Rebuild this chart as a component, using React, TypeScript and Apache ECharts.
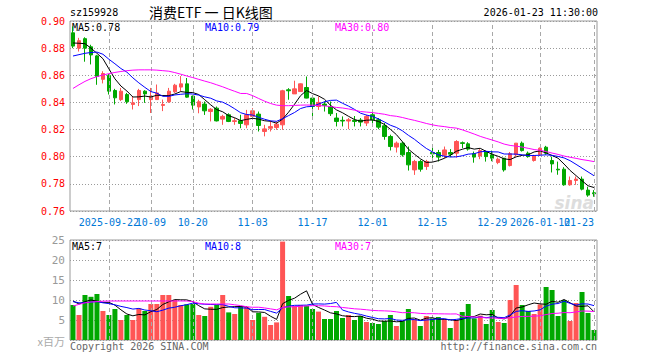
import React, { useEffect, useRef } from 'react';
import * as echarts from 'echarts';

const dates = [
  '2025-09-12','2025-09-15','2025-09-16','2025-09-17','2025-09-18','2025-09-19','2025-09-22','2025-09-23','2025-09-24','2025-09-25',
  '2025-09-26','2025-09-29','2025-09-30','2025-10-09','2025-10-10','2025-10-13','2025-10-14','2025-10-15','2025-10-16','2025-10-17',
  '2025-10-20','2025-10-21','2025-10-22','2025-10-23','2025-10-24','2025-10-27','2025-10-28','2025-10-29','2025-10-30','2025-10-31',
  '2025-11-03','2025-11-04','2025-11-05','2025-11-06','2025-11-07','2025-11-10','2025-11-11','2025-11-12','2025-11-13','2025-11-14',
  '2025-11-17','2025-11-18','2025-11-19','2025-11-20','2025-11-21','2025-11-24','2025-11-25','2025-11-26','2025-11-27','2025-11-28',
  '2025-12-01','2025-12-02','2025-12-03','2025-12-04','2025-12-05','2025-12-08','2025-12-09','2025-12-10','2025-12-11','2025-12-12',
  '2025-12-15','2025-12-16','2025-12-17','2025-12-18','2025-12-19','2025-12-22','2025-12-23','2025-12-24','2025-12-25','2025-12-26',
  '2025-12-29','2025-12-30','2025-12-31','2026-01-05','2026-01-06','2026-01-07','2026-01-08','2026-01-09','2026-01-12','2026-01-13',
  '2026-01-14','2026-01-15','2026-01-16','2026-01-19','2026-01-20','2026-01-21','2026-01-22','2026-01-23',
];

const opens = [
  0.8913,0.8800,0.8870,0.8810,0.8743,0.8570,0.8598,0.8488,0.8421,0.8458,
  0.8385,0.8421,0.8483,0.8421,0.8421,0.8378,0.8405,0.8478,0.8513,0.8537,
  0.8447,0.8367,0.8388,0.8333,0.8358,0.8277,0.8309,0.8260,0.8265,0.8235,
  0.8297,0.8314,0.8186,0.8210,0.8215,0.8235,0.8493,0.8463,0.8480,0.8510,
  0.8432,0.8370,0.8388,0.8370,0.8285,0.8268,0.8263,0.8268,0.8270,0.8248,
  0.8309,0.8272,0.8228,0.8149,0.8071,0.8100,0.8031,0.7903,0.7965,0.7928,
  0.8031,0.8031,0.8011,0.8031,0.8026,0.8103,0.8095,0.8022,0.8006,0.8038,
  0.8014,0.7957,0.7989,0.7935,0.8014,0.8100,0.8026,0.7972,0.8014,0.8070,
  0.7972,0.7908,0.7908,0.7793,0.7825,0.7835,0.7754,0.7734,
];
const closes = [
  0.8815,0.8855,0.8800,0.8750,0.8591,0.8613,0.8483,0.8434,0.8483,0.8405,
  0.8397,0.8488,0.8463,0.8447,0.8470,0.8385,0.8483,0.8527,0.8537,0.8439,
  0.8380,0.8405,0.8338,0.8350,0.8264,0.8297,0.8260,0.8265,0.8245,0.8309,
  0.8338,0.8230,0.8205,0.8222,0.8240,0.8486,0.8486,0.8500,0.8537,0.8432,
  0.8370,0.8400,0.8378,0.8317,0.8260,0.8263,0.8272,0.8260,0.8255,0.8297,
  0.8272,0.8218,0.8149,0.8075,0.8100,0.8014,0.7940,0.7965,0.7908,0.7965,
  0.8021,0.7997,0.8050,0.8019,0.8112,0.8098,0.8056,0.7997,0.8045,0.8001,
  0.7989,0.7982,0.7903,0.8022,0.8100,0.8045,0.8001,0.8006,0.8063,0.8026,
  0.7947,0.7903,0.7793,0.7825,0.7835,0.7761,0.7717,0.7727,
];
const lows = [
  0.8800,0.8775,0.8700,0.8680,0.8530,0.8540,0.8458,0.8385,0.8410,0.8390,
  0.8348,0.8373,0.8397,0.8322,0.8420,0.8336,0.8397,0.8470,0.8483,0.8435,
  0.8348,0.8320,0.8308,0.8260,0.8260,0.8235,0.8255,0.8235,0.8210,0.8210,
  0.8285,0.8186,0.8150,0.8186,0.8198,0.8198,0.8420,0.8463,0.8480,0.8430,
  0.8300,0.8345,0.8333,0.8300,0.8223,0.8223,0.8203,0.8223,0.8223,0.8226,
  0.8235,0.8203,0.8125,0.8046,0.8031,0.8001,0.7898,0.7866,0.7890,0.7903,
  0.7990,0.7965,0.7990,0.7997,0.7993,0.8063,0.8045,0.7956,0.7982,0.7964,
  0.7967,0.7945,0.7890,0.7928,0.8001,0.8038,0.7993,0.7964,0.8006,0.8015,
  0.7884,0.7867,0.7786,0.7786,0.7793,0.7752,0.7705,0.7705,
];
const highs = [
  0.8960,0.8876,0.8880,0.8825,0.8750,0.8630,0.8610,0.8500,0.8507,0.8470,
  0.8447,0.8500,0.8490,0.8507,0.8532,0.8421,0.8507,0.8537,0.8594,0.8580,
  0.8450,0.8420,0.8407,0.8358,0.8370,0.8309,0.8320,0.8285,0.8309,0.8345,
  0.8358,0.8333,0.8235,0.8265,0.8260,0.8493,0.8505,0.8560,0.8540,0.8591,
  0.8435,0.8444,0.8407,0.8407,0.8322,0.8297,0.8285,0.8300,0.8285,0.8309,
  0.8333,0.8285,0.8248,0.8162,0.8112,0.8112,0.8075,0.7977,0.7977,0.7977,
  0.8075,0.8050,0.8075,0.8056,0.8122,0.8112,0.8107,0.8038,0.8056,0.8045,
  0.8045,0.7994,0.7989,0.8035,0.8100,0.8112,0.8038,0.8014,0.8068,0.8080,
  0.8001,0.7964,0.7923,0.7854,0.7854,0.7854,0.7779,0.7754,
];

// volume, millions of shares
const volumes = [
  8.75,6.25,11.25,10.8,11.5,7.25,6.25,7.75,5.0,6.25,
  5.0,7.9,7.25,9.0,9.0,11.25,11.25,10.0,8.75,8.9,
  9.0,6.25,6.0,8.3,8.75,11.25,6.9,6.5,8.5,8.3,
  5.0,6.8,5.8,3.75,4.4,24.6,11.0,8.5,8.75,8.6,
  7.75,7.1,5.25,5.25,7.25,5.5,6.25,5.0,6.0,4.5,
  4.25,4.0,4.75,6.25,3.5,4.75,7.75,5.25,3.5,6.0,
  5.4,5.75,5.2,3.0,5.0,7.0,9.0,5.4,6.1,4.0,
  7.5,4.5,4.25,10.0,13.75,8.75,7.25,6.5,8.9,13.25,
  12.5,6.0,10.0,4.75,9.25,12.0,6.75,2.5,
];

const ma5Head = [0.8838,0.8836,0.8833,0.8800];
const ma10Head = [0.8742,0.8752,0.8762,0.8768,0.8771,0.8755,0.8718,0.8685,0.8650];
const ma30Head = [
  0.8503,0.8530,0.8555,0.8575,0.8590,0.8602,0.8612,0.8621,0.8628,0.8634,
  0.8638,0.8640,0.8640,0.8640,0.8638,0.8634,0.8630,0.8620,0.8608,0.8595,
  0.8583,0.8570,0.8557,0.8545,0.8530,0.8515,0.8498,0.8482,0.8466,
];
const vma5Head = [9.75,9.0,9.6,10.0];
const vma10Head = [9.6,9.3,9.3,9.5,9.6,9.3,9.1,8.8,8.4];
const vma30Head = [
  8.5,8.9,9.3,9.5,9.6,9.7,9.75,9.75,9.75,9.75,
  9.75,9.75,9.75,9.75,9.75,9.75,9.75,9.75,9.75,9.75,
  9.6,9.2,9.0,9.0,9.0,9.0,9.0,8.8,8.6,
];

const tickDates = ['2025-09-22','2025-10-09','2025-10-20','2025-11-03','2025-11-17','2025-12-01','2025-12-15','2025-12-29','2026-01-12','2026-01-23'];
const tickLabels = ['2025-09-22','10-09','10-20','11-03','11-17','12-01','12-15','12-29','2026-01-12','01-23'];
// which label row each tick label is drawn on (labels sharing a row never touch each other)
const tickRow = [0, 1, 0, 0, 0, 0, 0, 0, 0, 2];

const titleCode = 'sz159928';
const titleName = '消费ETF 一 日K线图';
const titleTime = '2026-01-23 11:30:00';
const priceLegend = ['MA5:0.78', 'MA10:0.79', 'MA30:0.80'];
const volLegend = ['MA5:7', 'MA10:8', 'MA30:7'];

const RED = '#ff5555';
const GREEN = '#00a800';
const MONO = '"DejaVu Sans Mono", monospace';
const GRID_C = '#9a9a9a';
const LABEL_C = '#0078d7';

function movingAverage(values: number[], n: number, head: number[]) {
  return values.map((_, i) => {
    if (i < head.length) return head[i];
    let s = 0;
    for (let k = i - n + 1; k <= i; k++) s += values[k];
    return +(s / n).toFixed(4);
  });
}

export default function App() {
  const ref = useRef<HTMLDivElement>(null);
  useEffect(() => {
    if (!ref.current) return;
    const chart = echarts.init(ref.current, null, { renderer: 'svg' });
    const labelOf = (v: string) => {
      const k = tickDates.indexOf(v);
      return k >= 0 ? tickLabels[k] : '';
    };
    const labelAxis = (row: number, align?: string) => ({
      type: 'category', gridIndex: 0, data: dates, boundaryGap: true, position: 'bottom', offset: 0,
      axisLine: { show: false }, axisTick: { show: false }, splitLine: { show: false },
      axisLabel: {
        interval: (_idx: number, v: string) => {
          const k = tickDates.indexOf(v);
          return k >= 0 && tickRow[k] === row;
        },
        hideOverlap: false,
        formatter: labelOf, color: LABEL_C, fontSize: 10, fontFamily: MONO, margin: 6,
        ...(align ? { align } : {}),
      },
    });
    const vLines = {
      silent: true,
      symbol: 'none',
      label: { show: false },
      lineStyle: { type: [4, 3], color: '#a8a8a8', width: 1 },
      data: tickDates.map((d) => ({ xAxis: d })),
    };
    const lineS = (name: string, data: number[], color: string, xi: number, yi: number) => ({
      name,
      type: 'line',
      xAxisIndex: xi,
      yAxisIndex: yi,
      data,
      symbol: 'none',
      showSymbol: false,
      lineStyle: { color, width: 1 },
      z: 5,
    });
    const txt = (text: string, x: number, y: number, fill: string, extra: any = {}) => ({
      type: 'text',
      x,
      y,
      silent: true,
      style: {
        text,
        fill,
        fontSize: 10,
        fontFamily: MONO,
        align: 'left',
        verticalAlign: 'middle',
        ...extra,
      },
    });
    const option: any = {
      animation: false,
      backgroundColor: '#ffffff',
      grid: [
        { left: 70, top: 21, width: 527, height: 190, show: true, borderColor: GRID_C, borderWidth: 1 },
        { left: 70, top: 240, width: 527, height: 100, show: true, borderColor: GRID_C, borderWidth: 1 },
      ],
      xAxis: [
        labelAxis(0),
        labelAxis(1),
        labelAxis(2, 'right'),
        {
          type: 'category', gridIndex: 1, data: dates, boundaryGap: true,
          axisLine: { show: false }, axisTick: { show: false }, splitLine: { show: false },
          axisLabel: { show: false },
        },
      ],
      yAxis: [
        {
          type: 'value', gridIndex: 0, min: 0.76, max: 0.9, interval: 0.02,
          axisLine: { show: false }, axisTick: { show: false },
          splitLine: { lineStyle: { type: [1, 2], color: GRID_C } },
          axisLabel: { color: '#ff0000', fontSize: 10, fontFamily: MONO, margin: 5, formatter: (v: number) => v.toFixed(2) },
        },
        {
          type: 'value', gridIndex: 1, min: 0, max: 25, interval: 5,
          axisLine: { show: false }, axisTick: { show: false },
          splitLine: { lineStyle: { type: [1, 2], color: GRID_C } },
          axisLabel: { color: '#999999', fontSize: 11, fontFamily: MONO, margin: 5, formatter: (v: number) => (v === 0 ? '' : String(v)) },
        },
      ],
      series: [
        {
          name: 'K',
          type: 'candlestick',
          xAxisIndex: 0,
          yAxisIndex: 0,
          barWidth: 4,
          data: dates.map((_, i) => [opens[i], closes[i], lows[i], highs[i]]),
          itemStyle: { color: RED, color0: GREEN, borderColor: RED, borderColor0: GREEN, borderWidth: 1 },
          markLine: vLines,
        },
        lineS('MA5', movingAverage(closes, 5, ma5Head), '#000000', 0, 0),
        lineS('MA10', movingAverage(closes, 10, ma10Head), '#0000ff', 0, 0),
        lineS('MA30', movingAverage(closes, 30, ma30Head), '#ff00ff', 0, 0),
        {
          name: 'VOL',
          type: 'bar',
          xAxisIndex: 3,
          yAxisIndex: 1,
          barWidth: 5,
          data: volumes.map((v, i) => ({ value: v, itemStyle: { color: closes[i] > opens[i] ? RED : GREEN } })),
          markLine: vLines,
        },
        lineS('VMA5', movingAverage(volumes, 5, vma5Head), '#000000', 3, 1),
        lineS('VMA10', movingAverage(volumes, 10, vma10Head), '#0000ff', 3, 1),
        lineS('VMA30', movingAverage(volumes, 30, vma30Head), '#ff00ff', 3, 1),
      ],
      graphic: [
        txt(titleCode, 70, 12, '#000000'),
        txt(titleName, 149, 12, '#000000', { fontSize: 14, fontFamily: '"Noto Sans CJK SC", sans-serif' }),
        txt(titleTime, 598, 12, '#000000', { align: 'right' }),
        txt(priceLegend[0], 72, 27, '#000000'),
        txt(priceLegend[1], 205, 27, '#0000ff'),
        txt(priceLegend[2], 335, 27, '#ff00ff'),
        txt(volLegend[0], 72, 246, '#000000'),
        txt(volLegend[1], 205, 246, '#0000ff'),
        txt(volLegend[2], 335, 246, '#ff00ff'),
        txt('x百万', 65, 341, '#aaaaaa', { align: 'right', fontSize: 11, fontFamily: '"Noto Sans CJK SC", sans-serif' }),
        txt('Copyright 2026 SINA.COM', 70, 346, '#666666'),
        txt('http://finance.sina.com.cn', 597, 346, '#666666', { align: 'right' }),
        txt('sina', 594, 203, '#dddddd', { align: 'right', fontSize: 17, fontStyle: 'italic', fontWeight: 'bold', fontFamily: 'Verdana, "DejaVu Sans", sans-serif' }),
      ],
    };
    chart.setOption(option);
    return () => chart.dispose();
  }, []);
  return (
    <div
      ref={ref}
      style={{ position: 'fixed', left: 0, top: 0, width: 660, height: 360, background: '#ffffff' }}
    />
  );
}
